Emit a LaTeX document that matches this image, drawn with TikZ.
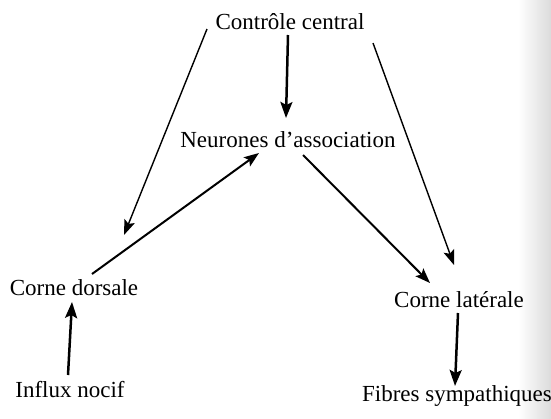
\documentclass[tikz,border=0pt]{standalone}
\usepackage{fontspec}
\setmainfont{Liberation Serif}
\usetikzlibrary{arrows.meta,calc}
\begin{document}
\begin{tikzpicture}[x=1pt,y=-1pt,
  lbl/.style={inner sep=0pt,font=\fontsize{23}{27}\selectfont},
  thinarr/.style={line width=1.4pt,-{Stealth[length=15pt,width=11pt,inset=3pt]}},
  midarr/.style={line width=2pt,-{Stealth[length=15pt,width=11pt,inset=3pt]}},
  thickarr/.style={line width=2.5pt,-{Stealth[length=16pt,width=12pt,inset=3pt]}}]
\useasboundingbox (0,0) rectangle (551,418);
\shade[left color=white,right color=black!14] (518,0) rectangle (551,418);
\node[lbl] (cc) at (290,22) {Contrôle central};
\node[lbl] (na) at (288,140) {Neurones d’association};
\node[lbl] (cd) at (74,288) {Corne dorsale};
\node[lbl] (cl) at (459,300) {Corne latérale};
\node[lbl] (in) at (70,390) {Influx nocif};
\node[lbl] (fs) at (457,396) {Fibres sympathiques};
\draw[thickarr] ($(cc)+(-2,13)$) -- ($(na)+(-2,-22)$);
\draw[thinarr] ($(cc)+(-83,7)$) -- ($(cd)+(50,-53)$);
\draw[thinarr] ($(cc)+(83,21)$) -- ($(cl)+(-5,-35)$);
\draw[midarr] ($(cd)+(18,-14)$) -- ($(na)+(-29,13)$);
\draw[midarr] ($(na)+(15,15)$) -- ($(cl)+(-29,-17)$);
\draw[thickarr] ($(in)+(-2,-15)$) -- ($(cd)+(-2,14)$);
\draw[thickarr] ($(cl)+(-1,13)$) -- ($(fs)+(-2,-10)$);
\end{tikzpicture}
\end{document}
